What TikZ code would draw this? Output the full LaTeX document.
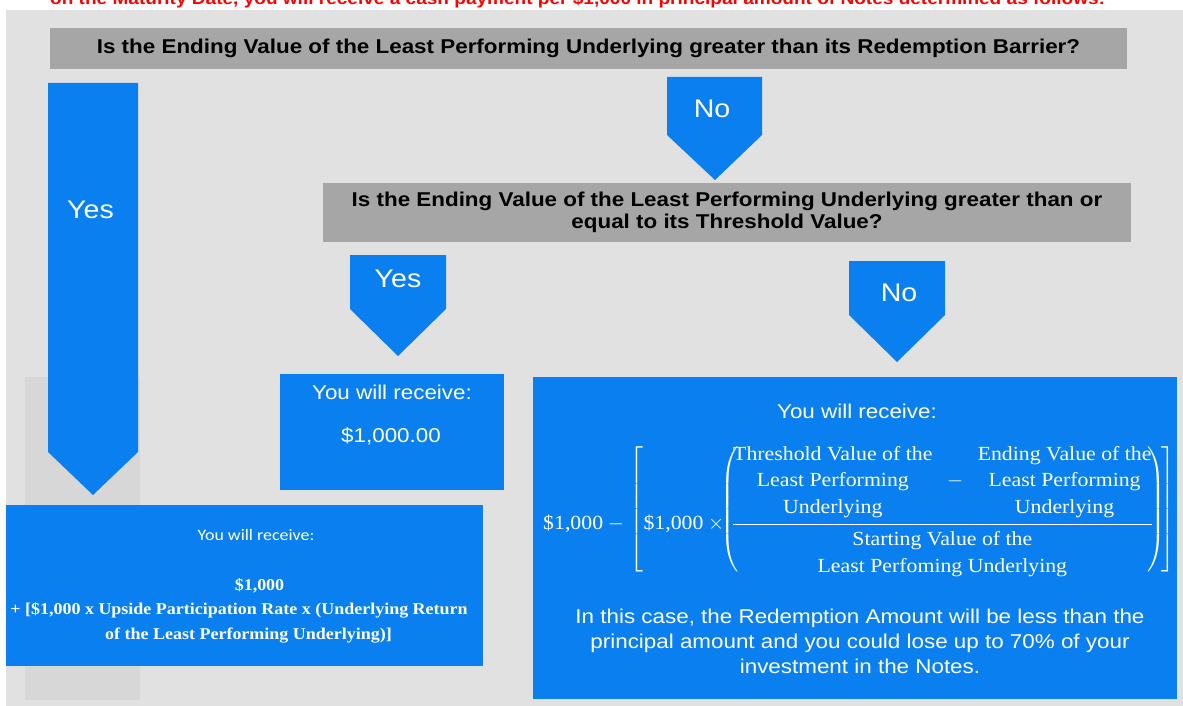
\documentclass[tikz,border=0pt]{standalone}
\usepackage{fontspec}
\usepackage{amsmath}
\setmainfont{Liberation Sans}[FakeStretch=1.12]
\newfontfamily\cambria{Liberation Serif}[FakeStretch=1.09]
\newfontfamily\calibri{Carlito}[FakeStretch=1.12]
\definecolor{bgGray}{HTML}{E1E1E1}
\definecolor{panelGray}{HTML}{D7D7D7}
\definecolor{askGray}{HTML}{A6A6A6}
\definecolor{flowBlue}{HTML}{0A80F0}
\definecolor{noteRed}{HTML}{FF0000}
% tall fence, lifted above the fraction bar
\newcommand\liftfence[1]{\raisebox{15pt}{$\left.\vcenter to 126pt{}\right#1$}}
\begin{document}
\begin{tikzpicture}[x=1pt,y=-1pt,
  qbox/.style={fill=askGray, inner sep=0pt, align=center, font=\bfseries\fontsize{20}{22}\selectfont},
  bluebox/.style={fill=flowBlue, inner sep=0pt},
  tagtext/.style={text=white, inner sep=0pt, anchor=base, font=\fontsize{25.5}{28}\selectfont},
  boxtext/.style={text=white, inner sep=0pt, anchor=base, font=\fontsize{20}{24}\selectfont},
  calctext/.style={text=white, inner sep=0pt, anchor=base, font=\cambria\bfseries\fontsize{16.5}{24}\selectfont}]
  \useasboundingbox (0,0) rectangle (1183,706);
  \clip (0,0) rectangle (1183,706);
  \node[anchor=base west, inner sep=0pt, text=noteRed, font=\bfseries\fontsize{17}{18}\selectfont] (intro) at (50,4.5)
    {on the Maturity Date, you will receive a cash payment per \$1,000 in principal amount of Notes determined as follows:};
  \fill[bgGray] (6,10) rectangle (1183,706);
  \fill[panelGray] (25,377) rectangle (140,700);
  % questions
  \node[qbox, minimum width=1077pt, minimum height=41pt] (barrier) at (588.5,48.5)
    {Is the Ending Value of the Least Performing Underlying greater than its Redemption Barrier?};
  \node[qbox, minimum width=808pt, minimum height=59pt] (threshold) at (727,212.5)
    {Is the Ending Value of the Least Performing Underlying greater than or\\ equal to its Threshold Value?};
  % arrows
  \fill[flowBlue] (48,83) -- (138,83) -- (138,452) -- (93,495) -- (48,452) -- cycle;
  \fill[flowBlue] (667,77) -- (762,77) -- (762,135) -- (715,180) -- (667,135) -- cycle;
  \fill[flowBlue] (350,255) -- (446,255) -- (446,309) -- (398,356) -- (350,309) -- cycle;
  \fill[flowBlue] (849,261) -- (945,261) -- (945,315) -- (897,362) -- (849,315) -- cycle;
  \node[tagtext] (yesup) at (90.5,218) {Yes};
  \node[tagtext] (noup) at (712,118) {No};
  \node[tagtext] (yesmid) at (398,287) {Yes};
  \node[tagtext] (nomid) at (899,301) {No};
  % outcomes
  \node[bluebox, minimum width=224pt, minimum height=116pt] (flat) at (392,432) {};
  \node[boxtext] (flathead) at (392,399) {You will receive:};
  \node[boxtext] (flatsum) at (391,442) {\$1,000.00};
  \node[bluebox, minimum width=477pt, minimum height=161pt] (upside) at (244.5,585.5) {};
  \node[text=white, inner sep=0pt, anchor=base, font=\calibri\fontsize{16}{18}\selectfont] (upsidehead) at (256,540) {You will receive:};
  \node[calctext] (upsideone) at (259.5,590) {\$1,000};
  \node[calctext] (upsidetwo) at (239,614) {+ [\$1,000 x Upside Participation Rate x (Underlying Return};
  \node[calctext] (upsidethree) at (248.5,639) {of the Least Performing Underlying)]};
  \node[bluebox, minimum width=644pt, minimum height=322pt] (loss) at (855,538) {};
  \node[boxtext] (losshead) at (857,418) {You will receive:};
  \node[text=white, inner sep=0pt, anchor=base west, font=\cambria\fontsize{20}{26.5}\selectfont] (lossformula) at (543,529.5)
    {$\text{\$1,000} - \liftfence[\text{\$1,000}\times\mkern-8mu\liftfence(\mkern-6mu\dfrac{\begin{tabular}{@{}c@{}}Threshold Value of the\\ Least Performing\\ Underlying\end{tabular}\hspace{10pt}-\hspace{10pt}\begin{tabular}{@{}c@{}}Ending Value of the\\ Least Performing\\ Underlying\end{tabular}}{\begin{tabular}{@{}c@{}}Starting Value of the\\ Least Perfoming Underlying\end{tabular}}\mkern-6mu\liftfence)\mkern-4mu\liftfence]$};
  \node[text=white, inner sep=0pt, align=center, font=\fontsize{20}{25}\selectfont] (lossnote) at (860,641)
    {In this case, the Redemption Amount will be less than the\\ principal amount and you could lose up to 70\% of your\\ investment in the Notes.};
\end{tikzpicture}
\end{document}
